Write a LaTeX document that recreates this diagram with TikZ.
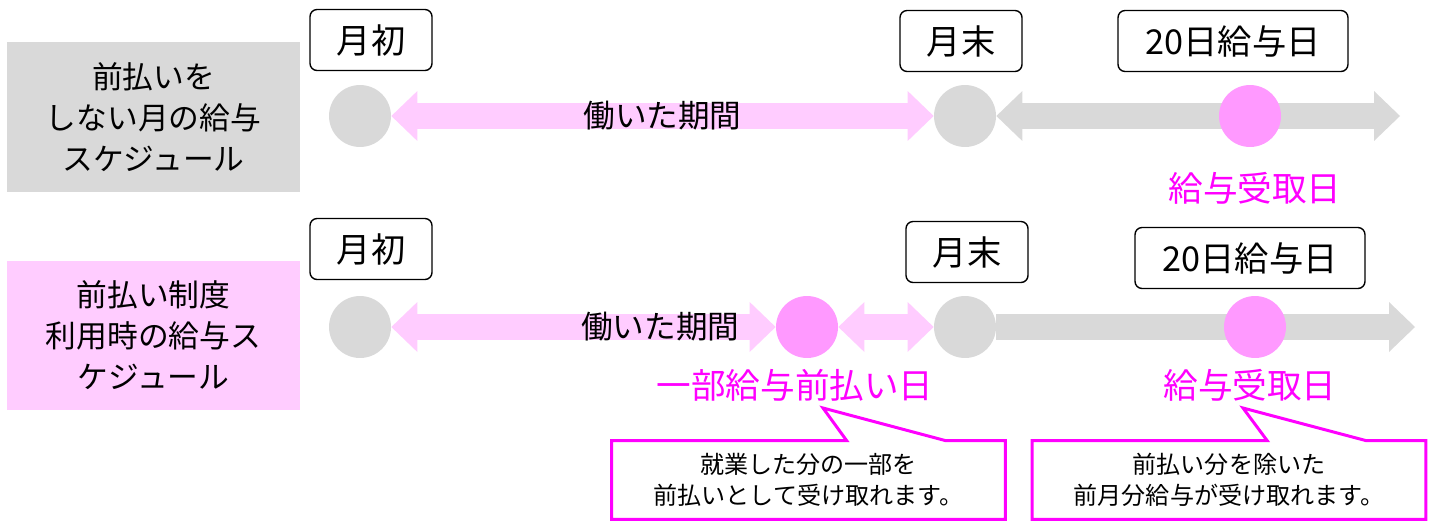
\documentclass[tikz,border=0pt]{standalone}
\usepackage{fontspec}
\setmainfont{Noto Sans CJK JP}
\usetikzlibrary{arrows.meta,calc}
\definecolor{lgray}{HTML}{D9D9D9}
\definecolor{lpink}{HTML}{FFCCFF}
\definecolor{mpink}{HTML}{FF99FF}
\definecolor{mag}{HTML}{FF00FF}
\tikzset{
  blockhead/.tip={Triangle[width=1cm 0,length=0.52cm 0,line width=0pt 0]}
}

\begin{document}
\begin{tikzpicture}
    [x=0.02cm,y=-0.02cm,every node/.style={inner sep=0pt},
     rowbox/.style={minimum width=5.86cm, minimum height=3cm, align=center, font=\fontsize{17.5}{23.3}\selectfont},
     datebox/.style={draw, rounded corners=4pt, line width=0.8pt, minimum width=2.44cm, minimum height=1.22cm, font=\fontsize{19.5}{22}\selectfont},
     dot/.style={circle, minimum size=1.24cm},
     band/.style={line width=0.52cm, blockhead-blockhead},
     oneway/.style={line width=0.52cm, -blockhead},
     period/.style={text=black, font=\fontsize{18}{22}\selectfont},
     lbl/.style={text=mag, font=\fontsize{19.7}{22}\selectfont},
     note/.style={minimum width=7.86cm, minimum height=1.56cm, align=center, font=\fontsize{13.7}{17.6}\selectfont},
     callout/.style={draw=mag, line width=1.7pt, line join=miter}]
  \useasboundingbox (0,0) rectangle (1434,521);

  % row titles
  \node[rowbox, fill=lgray] (plain) at (153.5,117) {前払いを\\しない月の給与\\スケジュール};
  \node[rowbox, fill=lpink] (adv) at (153.5,335.5) {前払い制度\\利用時の給与ス\\ケジュール};

  % row 1
  \node[datebox] (start1) at (371,40) {月初};
  \node[datebox] (end1) at (961,41) {月末};
  \node[datebox, minimum width=4.6cm] (pay1) at (1233,41) {20日給与日};
  \node[dot, fill=lgray] (s1) at (360,116) {};
  \node[dot, fill=lgray] (e1) at (965,116) {};
  \coordinate (r1) at (1400,116);
  \draw[band, lpink] (s1) -- (e1) node[midway, period] (work1) {働いた期間};
  \draw[band, lgray] (e1) -- (r1);
  \node[dot, fill=mpink] (p1) at (1250,116) {};
  \node[lbl] (get1) at (1255,188) {給与受取日};

  % row 2
  \node[datebox] (start2) at (371,249) {月初};
  \node[datebox] (end2) at (967,252) {月末};
  \node[datebox, minimum width=4.6cm] (pay2) at (1250,258) {20日給与日};
  \node[dot, fill=lgray] (s2) at (360,327) {};
  \node[dot, fill=mpink] (a2) at (807,327) {};
  \node[dot, fill=lgray] (e2) at (965,327) {};
  \coordinate (r2) at (1415,327);
  \draw[band, lpink] (s2) -- (a2) node[pos=0.7, period] (work2) {働いた期間};
  \draw[band, lpink] (a2) -- (e2);
  \draw[oneway, lgray] (e2) -- (r2);
  \node[dot, fill=mpink] (p2) at (1255,327) {};
  \node[lbl] (adv2) at (795,385) {一部給与前払い日};
  \node[lbl] (get2) at (1250,385) {給与受取日};

  % callouts
  \node[note] (n1) at (808.5,480) {就業した分の一部を\\前払いとして受け取れます。};
  \node[note] (n2) at (1229,480) {前払い分を除いた\\前月分給与が受け取れます。};
  \coordinate (t1) at (823,408);
  \coordinate (t2) at (1243,408);
  \foreach \n/\t in {n1/t1, n2/t2}
    \draw[callout] (\n.north west) -- ($(\n.north west)+(235,0)$) -- (\t)
      -- ($(\n.north west)+(334,0)$) -- (\n.north east) -- (\n.south east)
      -- (\n.south west) -- cycle;
\end{tikzpicture}
\end{document}
